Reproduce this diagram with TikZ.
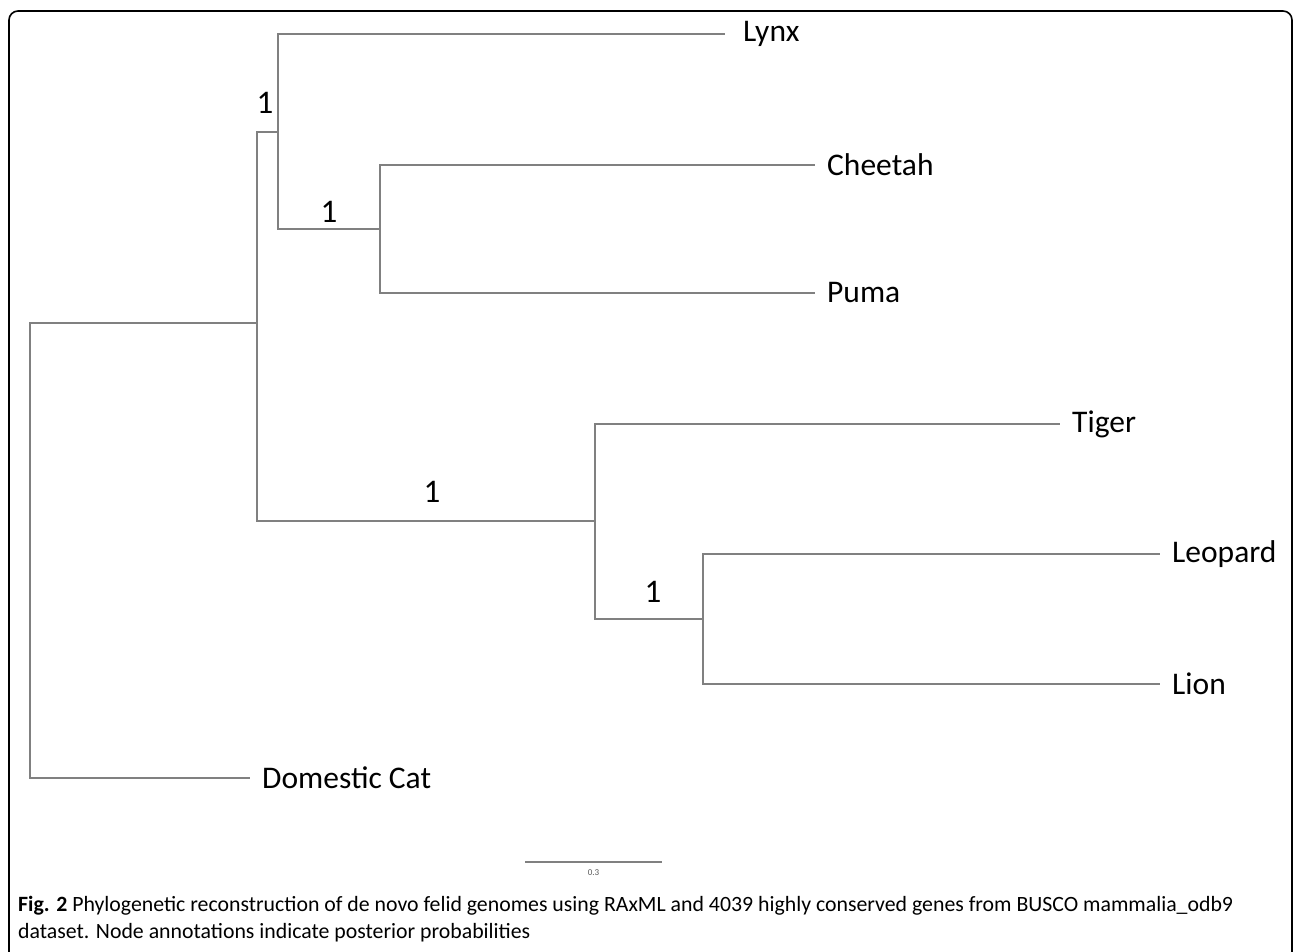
\documentclass[tikz,border=0pt]{standalone}
\usepackage{fontspec}
\setmainfont{Carlito}
\usetikzlibrary{positioning}
\tikzstyle{branch} = [draw=black!50, line width=1.8pt]
\tikzstyle{taxon} = [anchor=west, inner xsep=12pt, inner ysep=0pt, font=\fontsize{31.5}{31.5}\selectfont]
\tikzstyle{support} = [inner sep=0pt, font=\fontsize{33}{33}\selectfont]
\tikzstyle{frame} = [draw=black, line width=1.6pt, rounded corners=9pt]

\begin{document}
\begin{tikzpicture}[x=1pt, y=-1pt]
        \useasboundingbox (0,0) rectangle (1293,951);
        \draw [frame] (9,11) rectangle (1292,968);

        % Inner nodes
        \coordinate (root) at (30,550);
        \coordinate (felinae) at (257,323);
        \coordinate (lynxcl) at (278,132);
        \coordinate (cheepuma) at (380,229);
        \coordinate (panthera) at (595,521);
        \coordinate (leolion) at (703,619);

        % Taxa
        \node (lynx) [taxon, inner xsep=18pt] at (725,34) {Lynx};
        \node (cheetah) [taxon] at (815,165) {Cheetah};
        \node (puma) [taxon] at (815,293) {Puma};
        \node (tiger) [taxon] at (1060,424) {Tiger};
        \node (leopard) [taxon] at (1160,554) {Leopard};
        \node (lion) [taxon] at (1160,684) {Lion};
        \node (cat) [taxon] at (250,778) {Domestic Cat};

        % Posterior probabilities
        \node (pp1) [support] at (265,103) {1};
        \node (pp2) [support] at (329,212) {1};
        \node (pp3) [support] at (432,492) {1};
        \node (pp4) [support] at (653,592) {1};

        % Branches
        \draw [branch] (root) |- (felinae);
        \draw [branch] (root) |- (cat.west);
        \draw [branch] (felinae) |- (lynxcl);
        \draw [branch] (felinae) |- (panthera);
        \draw [branch] (lynxcl) |- (lynx.west);
        \draw [branch] (lynxcl) |- (cheepuma);
        \draw [branch] (cheepuma) |- (cheetah.west);
        \draw [branch] (cheepuma) |- (puma.west);
        \draw [branch] (panthera) |- (tiger.west);
        \draw [branch] (panthera) |- (leolion);
        \draw [branch] (leolion) |- (leopard.west);
        \draw [branch] (leolion) |- (lion.west);

        % Scale bar
        \coordinate (sbleft) at (525,862);
        \coordinate (sbright) at (662,862);
        \coordinate (sbmid) at (593.5,862);
        \draw [branch, line width=1.4pt] (sbleft) -- (sbright);
        \node (sblabel) [below=7pt of sbmid, inner sep=0pt, text=black!65, font=\fontsize{9}{9}\selectfont] {0.3};

        % Caption
        \node (caption) [anchor=north west, align=left, inner sep=0pt, font=\fontsize{21.8}{26.5}\selectfont] at (18,896)
            {\textbf{Fig. 2} Phylogenetic reconstruction of de novo felid genomes using RAxML and 4039 highly conserved genes from BUSCO mammalia\_odb9\\
            dataset. Node annotations indicate posterior probabilities};
    \end{tikzpicture}
\end{document}
